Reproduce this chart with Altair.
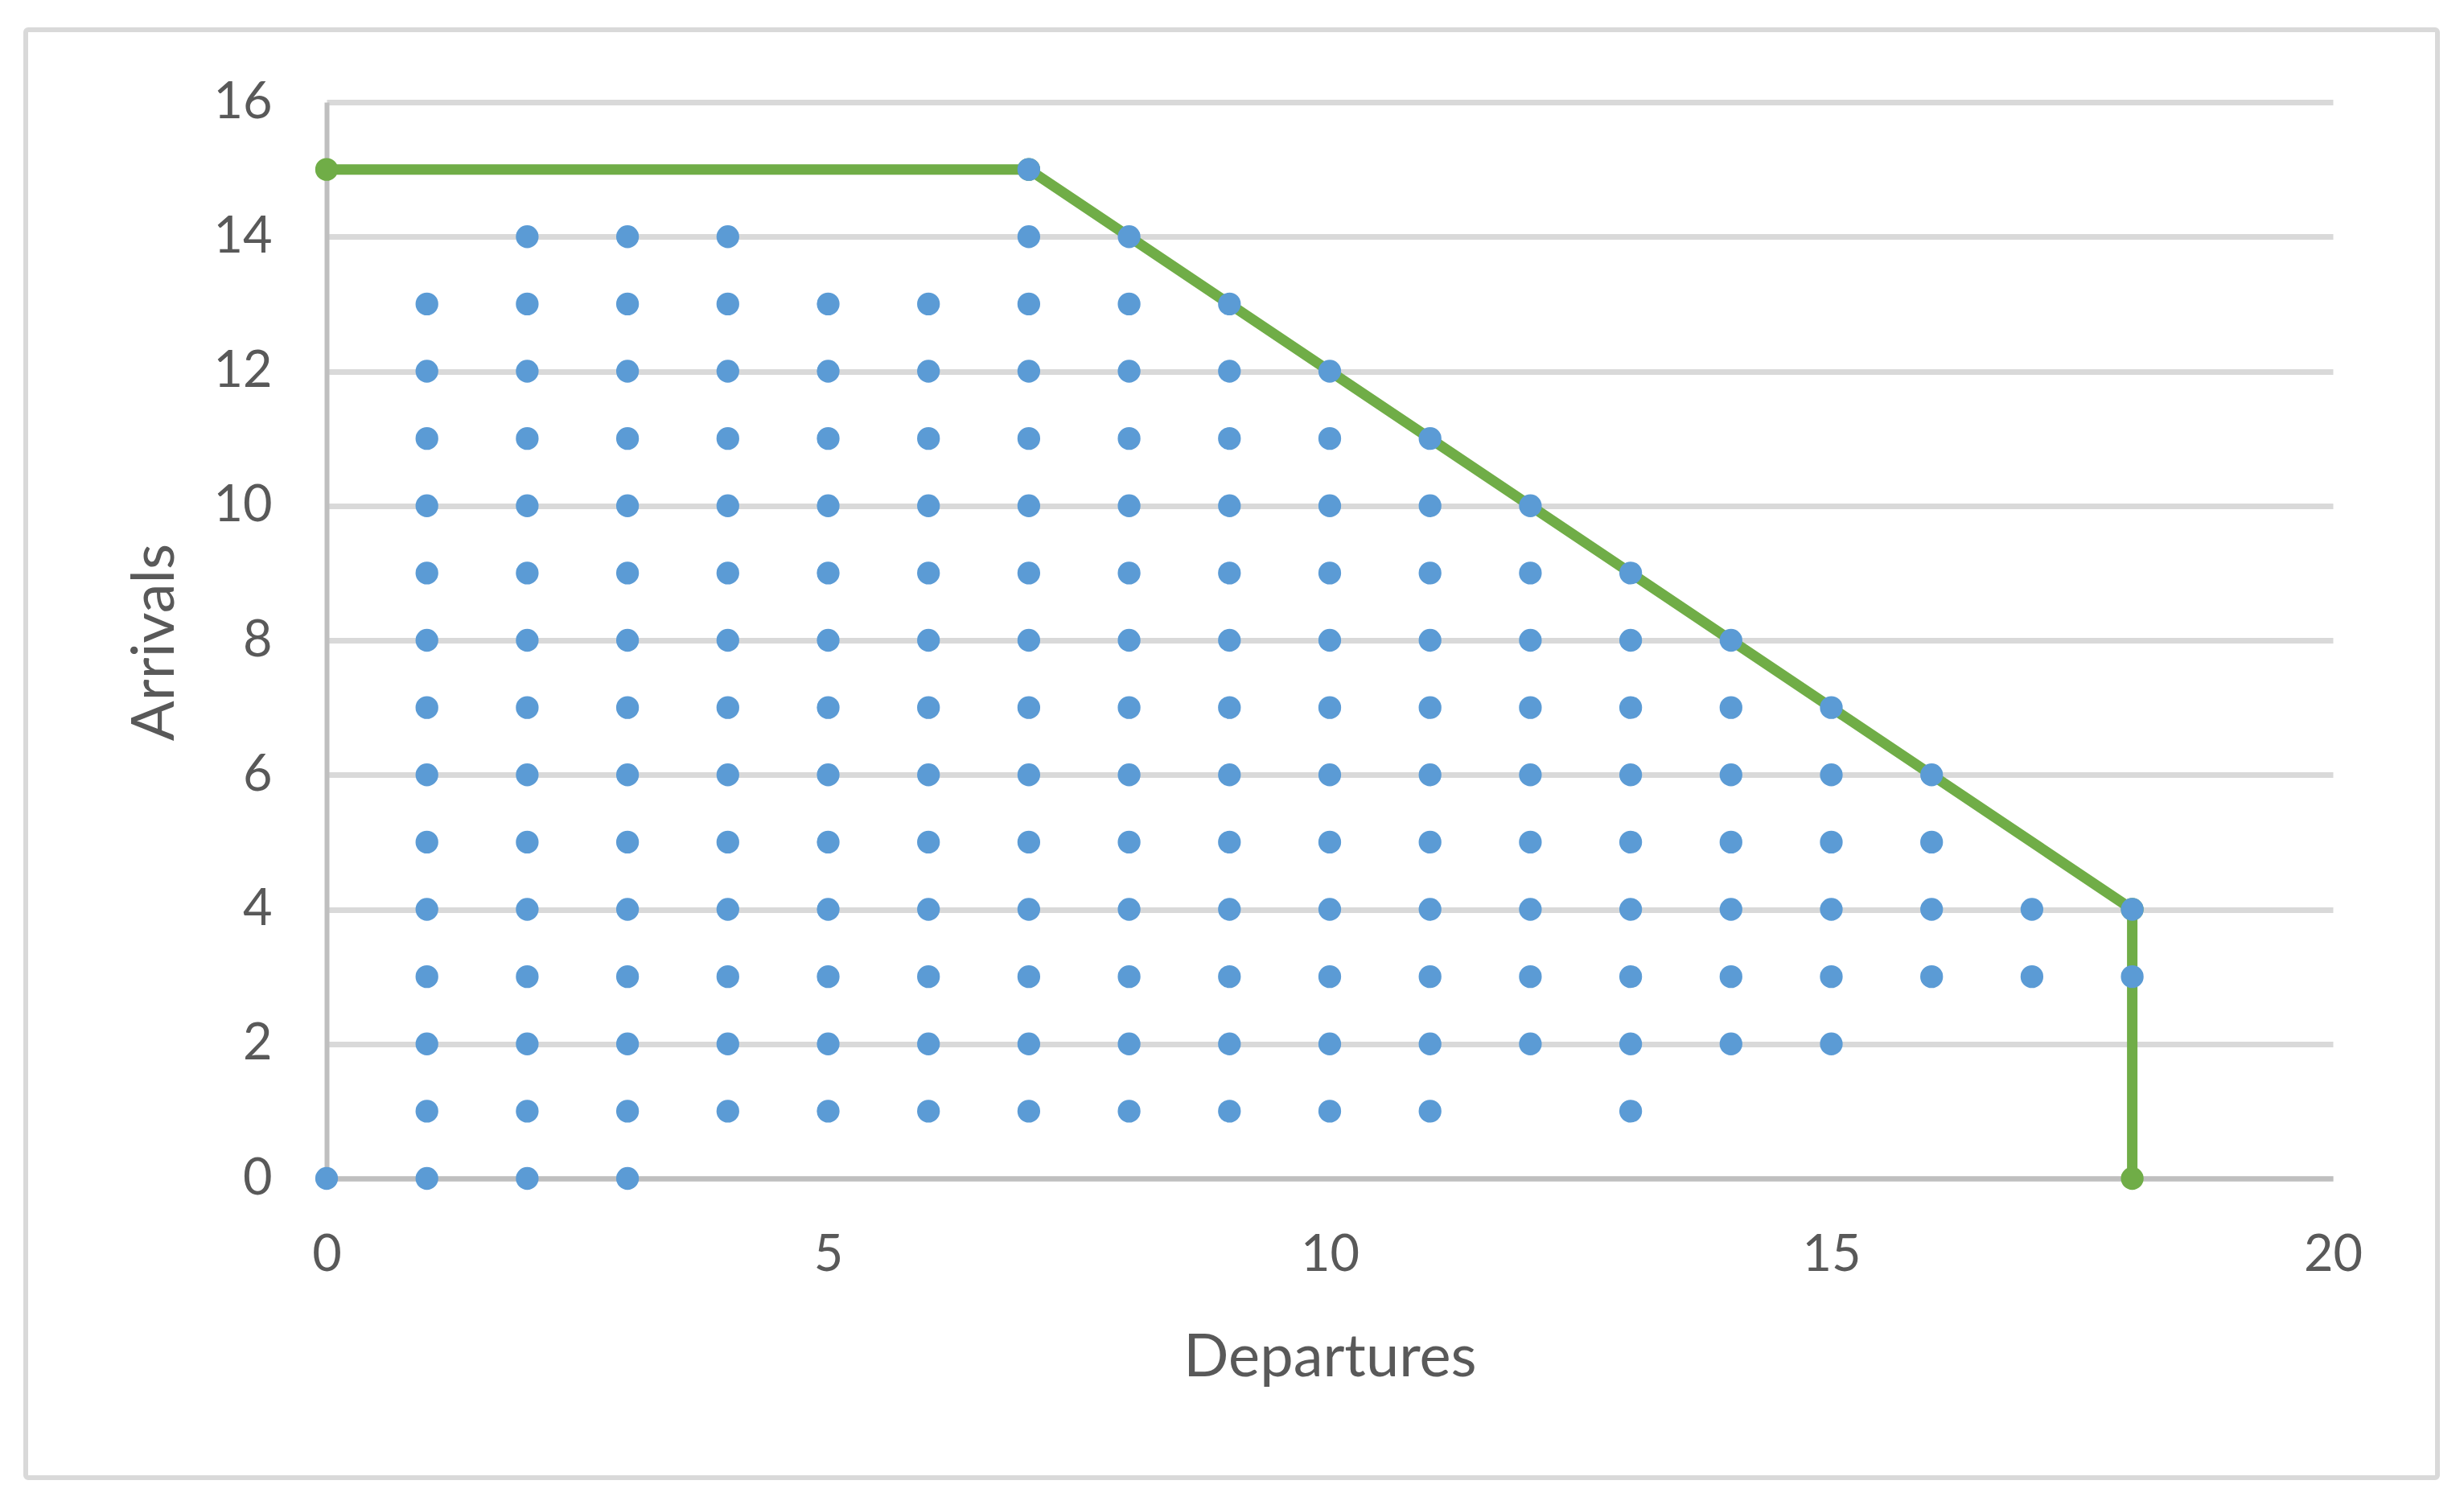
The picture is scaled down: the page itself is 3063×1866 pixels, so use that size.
import altair as alt
import pandas as pd

# Blue feasible points: for each arrivals level, the departures values present
rows_y = [15, 14, 13, 12, 11, 10, 9, 8, 7, 6, 5, 4, 3, 2, 1, 0]
rows_x = [
    [7],
    [2, 3, 4, 7, 8],
    [1, 2, 3, 4, 5, 6, 7, 8, 9],
    [1, 2, 3, 4, 5, 6, 7, 8, 9, 10],
    [1, 2, 3, 4, 5, 6, 7, 8, 9, 10, 11],
    [1, 2, 3, 4, 5, 6, 7, 8, 9, 10, 11, 12],
    [1, 2, 3, 4, 5, 6, 7, 8, 9, 10, 11, 12, 13],
    [1, 2, 3, 4, 5, 6, 7, 8, 9, 10, 11, 12, 13, 14],
    [1, 2, 3, 4, 5, 6, 7, 8, 9, 10, 11, 12, 13, 14, 15],
    [1, 2, 3, 4, 5, 6, 7, 8, 9, 10, 11, 12, 13, 14, 15, 16],
    [1, 2, 3, 4, 5, 6, 7, 8, 9, 10, 11, 12, 13, 14, 15, 16],
    [1, 2, 3, 4, 5, 6, 7, 8, 9, 10, 11, 12, 13, 14, 15, 16, 17, 18],
    [1, 2, 3, 4, 5, 6, 7, 8, 9, 10, 11, 12, 13, 14, 15, 16, 17, 18],
    [1, 2, 3, 4, 5, 6, 7, 8, 9, 10, 11, 12, 13, 14, 15],
    [1, 2, 3, 4, 5, 6, 7, 8, 9, 10, 11, 13],
    [0, 1, 2, 3],
]

# Green frontier line
frontier_x = [0, 7, 18, 18]
frontier_y = [15, 15, 4, 0]

x_ticks = [0, 5, 10, 15, 20]
y_ticks = [0, 2, 4, 6, 8, 10, 12, 14, 16]

pts = pd.DataFrame(
    [(x, y) for y, xs in zip(rows_y, rows_x) for x in xs],
    columns=["Departures", "Arrivals"],
)
line_df = pd.DataFrame(
    {"Departures": frontier_x, "Arrivals": frontier_y, "i": list(range(len(frontier_x)))}
)

BLUE = "#5B9BD5"
GREEN = "#70AD47"
TXT = "#595959"
FONT = "Lato"

W, H = 2494, 1338

xscale = alt.Scale(domain=[0, 20], nice=False, zero=False)
yscale = alt.Scale(domain=[0, 16], nice=False, zero=False)

xaxis = alt.Axis(
    values=x_ticks, format="d", grid=False, ticks=False, tickSize=0,
    domainColor="#BFBFBF", domainWidth=6,
    labelFont=FONT, labelFontSize=63, labelColor=TXT, labelPadding=64,
    labelFlush=False, labelOverlap=False,
    title="Departures", titleFont=FONT, titleFontSize=74, titleColor=TXT,
    titleFontWeight="normal", titleBaseline="alphabetic", titleY=245, titleX=W / 2,
)
yaxis = alt.Axis(
    values=y_ticks, format="d", grid=True, gridColor="#D9D9D9", gridWidth=7,
    ticks=False, tickSize=0,
    domainColor="#BFBFBF", domainWidth=6,
    labelFont=FONT, labelFontSize=63, labelColor=TXT, labelPadding=68,
    labelFlush=False, labelOverlap=False,
    title="Arrivals", titleFont=FONT, titleFontSize=74, titleColor=TXT,
    titleFontWeight="normal", titleBaseline="alphabetic", titleAngle=-90,
    titleX=-191, titleY=H / 2 + 2,
)

frame = alt.Chart(pd.DataFrame({"a": [0]})).mark_rect(
    filled=False, stroke="#D9D9D9", strokeWidth=6, cornerRadius=3
).encode(
    x=alt.value(-374), x2=alt.value(2624), y=alt.value(-90), y2=alt.value(1710)
)

line = alt.Chart(line_df).mark_line(
    color=GREEN, strokeWidth=13,
    point=alt.OverlayMarkDef(color=GREEN, size=800, filled=True, opacity=1),
).encode(
    x=alt.X("Departures:Q", scale=xscale, axis=xaxis),
    y=alt.Y("Arrivals:Q", scale=yscale, axis=yaxis),
    order="i:Q",
)

dots = alt.Chart(pts).mark_circle(size=800, color=BLUE, opacity=1).encode(
    x=alt.X("Departures:Q", scale=xscale),
    y=alt.Y("Arrivals:Q", scale=yscale),
)

chart = alt.layer(frame, line, dots).properties(
    width=W, height=H,
    autosize=alt.AutoSizeParams(type="none"),
    padding={"left": 398, "top": 119, "right": 140, "bottom": 390},
    background="white",
).configure_view(stroke=None)

chart.save("out.html", embed_options={"renderer": "svg", "actions": False})
